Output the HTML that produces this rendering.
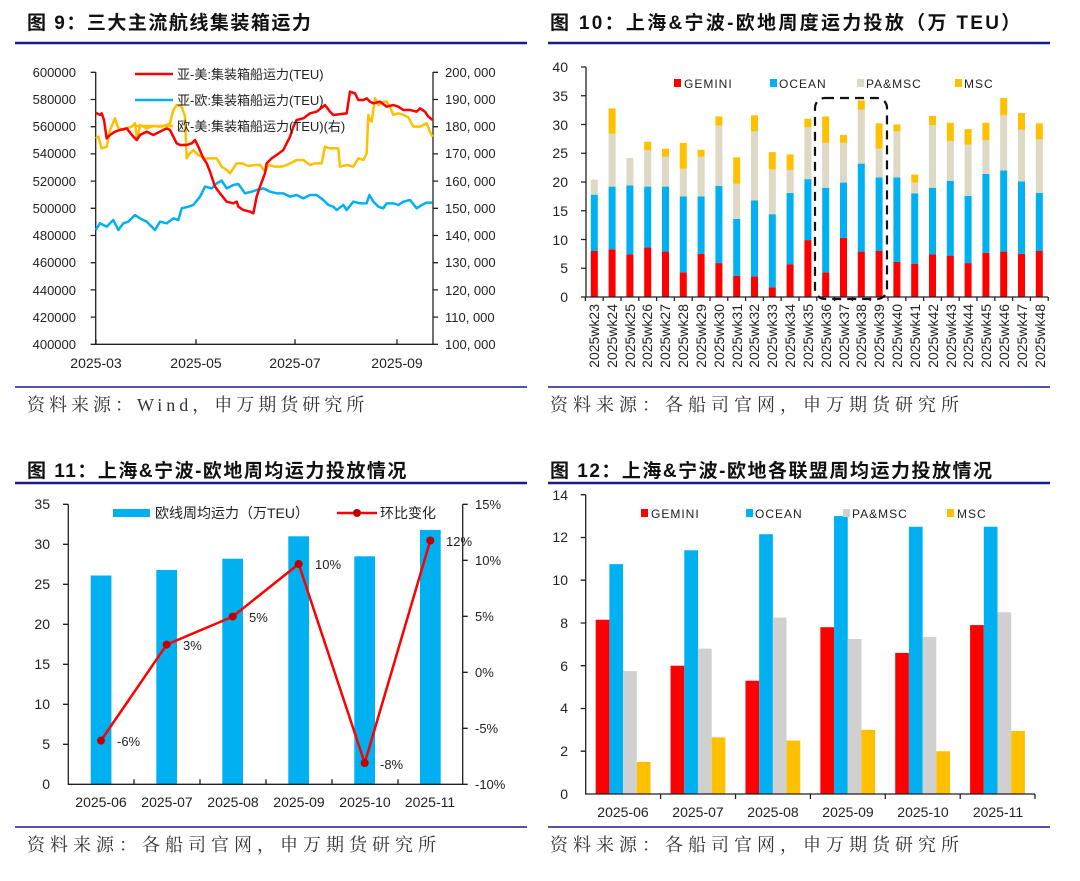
<!DOCTYPE html>
<html><head><meta charset="utf-8"><style>
html,body{margin:0;padding:0;background:#fff}
svg{display:block}
.t{font-family:"Liberation Sans","Noto Sans CJK SC",sans-serif;font-weight:bold;font-size:19px;fill:#111;letter-spacing:1.5px}
.s{font-family:"Liberation Serif","Noto Serif CJK SC",serif;font-size:18px;fill:#333;letter-spacing:5px}
.a{font-family:"Liberation Sans","Noto Sans CJK SC",sans-serif;font-size:13px;fill:#222}
.w{font-family:"Liberation Sans","Noto Sans CJK SC",sans-serif;font-size:14px;fill:#222}
.l{font-family:"Liberation Sans","Noto Sans CJK SC",sans-serif;font-size:13px;fill:#222}
</style></head><body>
<svg id="s" width="1080" height="881" viewBox="0 0 1080 881" xmlns="http://www.w3.org/2000/svg">
<text class="t" x="27" y="29">图 9：三大主流航线集装箱运力</text>
<text class="t" x="550" y="29" style="letter-spacing:2.3px">图 10：上海&amp;宁波-欧地周度运力投放（万 TEU）</text>
<text class="t" x="27" y="477">图 11：上海&amp;宁波-欧地周均运力投放情况</text>
<text class="t" x="550" y="477">图 12：上海&amp;宁波-欧地各联盟周均运力投放情况</text>
<g stroke="#1a1a8c" stroke-width="2.5">
<line x1="15" y1="43" x2="527" y2="43"/><line x1="548" y1="43" x2="1050" y2="43"/>
<line x1="15" y1="483" x2="527" y2="483"/><line x1="548" y1="483" x2="1050" y2="483"/>
</g>
<g stroke="#1a1a8c" stroke-width="1.5">
<line x1="15" y1="387" x2="527" y2="387"/><line x1="548" y1="387" x2="1050" y2="387"/>
<line x1="15" y1="827" x2="527" y2="827"/><line x1="548" y1="827" x2="1050" y2="827"/>
</g>
<text class="s" x="27" y="411" style="letter-spacing:4px">资料来源：Wind，申万期货研究所</text>
<text class="s" x="550" y="411">资料来源：各船司官网，申万期货研究所</text>
<text class="s" x="27" y="851">资料来源：各船司官网，申万期货研究所</text>
<text class="s" x="550" y="851">资料来源：各船司官网，申万期货研究所</text>

<!-- Chart 9 -->
<g class="a" text-anchor="end">
<text x="76" y="77">600000</text><text x="76" y="104">580000</text><text x="76" y="131">560000</text><text x="76" y="158">540000</text><text x="76" y="186">520000</text><text x="76" y="213">500000</text><text x="76" y="240">480000</text><text x="76" y="267">460000</text><text x="76" y="295">440000</text><text x="76" y="322">420000</text><text x="76" y="349">400000</text>
</g>
<g class="a">
<text x="445" y="77">200, 000</text><text x="445" y="104">190, 000</text><text x="445" y="131">180, 000</text><text x="445" y="158">170, 000</text><text x="445" y="186">160, 000</text><text x="445" y="213">150, 000</text><text x="445" y="240">140, 000</text><text x="445" y="267">130, 000</text><text x="445" y="295">120, 000</text><text x="445" y="322">110, 000</text><text x="445" y="349">100, 000</text>
</g>
<g class="w" text-anchor="middle">
<text x="96" y="368">2025-03</text><text x="196" y="368">2025-05</text><text x="295" y="368">2025-07</text><text x="397" y="368">2025-09</text>
</g>
<g stroke="#222" stroke-width="1.3" fill="none">
<path d="M95.7 72V344.3H433V72"/>
<path id="t9"/>
</g>
<g transform="translate(0,40) scale(0.33333)" fill="none" stroke-width="7.5" stroke-linejoin="round">
<polyline stroke="#00b0f0" points="287,570 300,550 320,560 340,540 355,570 370,550 385,545 405,525 420,535 440,545 465,570 480,545 500,550 520,535 535,540 545,505 565,500 580,495 600,470 615,440 635,445 650,430 665,422 680,445 700,435 715,432 735,460 755,455 770,450 790,445 810,455 830,460 850,460 870,470 890,465 910,475 930,465 950,465 970,480 985,495 1000,500 1010,510 1030,495 1040,510 1060,485 1080,490 1100,490 1108,465 1120,485 1135,500 1150,505 1160,490 1180,490 1195,495 1210,485 1230,480 1250,505 1265,495 1280,488 1298,488"/>
<polyline stroke="#ffc000" points="287,295 295,290 305,325 320,320 330,270 345,235 355,265 370,270 380,265 395,260 405,250 412,300 420,255 440,265 460,258 480,260 500,255 510,250 520,210 530,195 545,200 555,230 560,355 570,340 580,330 595,345 615,355 630,355 650,355 665,380 680,390 690,400 700,385 710,370 725,370 745,378 765,375 780,375 795,395 805,375 825,380 845,380 860,375 875,368 890,360 910,360 930,375 945,370 965,370 975,320 990,325 1015,325 1020,380 1040,375 1060,380 1075,355 1090,360 1100,340 1105,225 1110,240 1115,245 1125,175 1135,195 1150,185 1160,185 1170,200 1180,225 1195,220 1210,225 1225,232 1240,260 1260,260 1280,250 1290,275 1298,290"/>
<polyline stroke="#ff0000" points="287,218 300,225 305,220 312,240 320,295 330,285 345,275 360,270 380,265 400,290 410,300 420,285 440,275 460,285 480,275 500,265 510,270 520,290 530,310 540,315 560,315 575,310 585,300 595,320 610,355 620,370 630,395 645,440 660,460 680,485 700,490 710,485 715,500 730,510 750,515 760,520 770,470 780,440 795,400 800,370 815,355 830,345 850,330 860,310 870,290 880,260 890,240 910,235 930,220 950,215 975,195 990,215 1000,225 1040,220 1050,155 1065,160 1075,180 1090,180 1100,175 1110,185 1120,190 1140,185 1160,200 1180,195 1195,200 1210,210 1230,210 1250,215 1260,205 1275,215 1285,230 1298,240"/>
</g>
<g stroke-width="2.5">
<line x1="135" y1="74" x2="173" y2="74" stroke="#ff0000"/>
<line x1="135" y1="100" x2="173" y2="100" stroke="#00b0f0"/>
<line x1="135" y1="126" x2="173" y2="126" stroke="#ffc000"/>
</g>
<g class="a"><text x="177" y="79">亚-美:集装箱船运力(TEU)</text><text x="177" y="105">亚-欧:集装箱船运力(TEU)</text><text x="177" y="131">欧-美:集装箱船运力(TEU)(右)</text></g>

<!-- Chart 10 -->
<g class="w" text-anchor="end">
<text x="568" y="302">0</text><text x="568" y="273">5</text><text x="568" y="245">10</text><text x="568" y="216">15</text><text x="568" y="187">20</text><text x="568" y="158">25</text><text x="568" y="130">30</text><text x="568" y="101">35</text><text x="568" y="72">40</text>
</g>
<g id="b10"></g>
<g stroke="#222" stroke-width="1.3" fill="none"><path d="M586 67V297H1048"/><path id="t10"/></g>
<rect x="815" y="98" width="72" height="201" rx="10" fill="none" stroke="#111" stroke-width="2.2" stroke-dasharray="9,6"/>
<g class="w">
<text transform="translate(599,304) rotate(-90)" text-anchor="end">2025wk23</text>
<text transform="translate(617,304) rotate(-90)" text-anchor="end">2025wk24</text>
<text transform="translate(635,304) rotate(-90)" text-anchor="end">2025wk25</text>
<text transform="translate(652,304) rotate(-90)" text-anchor="end">2025wk26</text>
<text transform="translate(670,304) rotate(-90)" text-anchor="end">2025wk27</text>
<text transform="translate(688,304) rotate(-90)" text-anchor="end">2025wk28</text>
<text transform="translate(706,304) rotate(-90)" text-anchor="end">2025wk29</text>
<text transform="translate(724,304) rotate(-90)" text-anchor="end">2025wk30</text>
<text transform="translate(742,304) rotate(-90)" text-anchor="end">2025wk31</text>
<text transform="translate(759,304) rotate(-90)" text-anchor="end">2025wk32</text>
<text transform="translate(777,304) rotate(-90)" text-anchor="end">2025wk33</text>
<text transform="translate(795,304) rotate(-90)" text-anchor="end">2025wk34</text>
<text transform="translate(813,304) rotate(-90)" text-anchor="end">2025wk35</text>
<text transform="translate(831,304) rotate(-90)" text-anchor="end">2025wk36</text>
<text transform="translate(849,304) rotate(-90)" text-anchor="end">2025wk37</text>
<text transform="translate(866,304) rotate(-90)" text-anchor="end">2025wk38</text>
<text transform="translate(884,304) rotate(-90)" text-anchor="end">2025wk39</text>
<text transform="translate(902,304) rotate(-90)" text-anchor="end">2025wk40</text>
<text transform="translate(920,304) rotate(-90)" text-anchor="end">2025wk41</text>
<text transform="translate(938,304) rotate(-90)" text-anchor="end">2025wk42</text>
<text transform="translate(956,304) rotate(-90)" text-anchor="end">2025wk43</text>
<text transform="translate(973,304) rotate(-90)" text-anchor="end">2025wk44</text>
<text transform="translate(991,304) rotate(-90)" text-anchor="end">2025wk45</text>
<text transform="translate(1009,304) rotate(-90)" text-anchor="end">2025wk46</text>
<text transform="translate(1027,304) rotate(-90)" text-anchor="end">2025wk47</text>
<text transform="translate(1045,304) rotate(-90)" text-anchor="end">2025wk48</text>
</g>
<rect x="674" y="79" width="7" height="8" fill="#ff0000"/><rect x="770" y="79" width="7" height="8" fill="#00b0f0"/><rect x="857" y="79" width="7" height="8" fill="#ddd9c4"/><rect x="955" y="79" width="7" height="8" fill="#ffc000"/>
<g class="l" style="font-size:12px;letter-spacing:1px"><text x="684" y="88">GEMINI</text><text x="779" y="88">OCEAN</text><text x="866" y="88">PA&amp;MSC</text><text x="964" y="88">MSC</text></g>

<!-- Chart 11 -->
<g fill="#00b0f0">
<rect x="90.7" y="575.5" width="20.7" height="208.8"/><rect x="156.3" y="569.9" width="20.7" height="214.4"/><rect x="222.3" y="558.7" width="20.7" height="225.6"/><rect x="288.3" y="536.3" width="20.7" height="248"/><rect x="354.3" y="556.3" width="20.7" height="228"/><rect x="420" y="529.9" width="20.7" height="254.4"/>
</g>
<g stroke="#222" stroke-width="1.3" fill="none"><path d="M68.3 504.3V784.3H462.7V504.3"/>
<path d="M63 504.3h5M63 544.3h5M63 584.3h5M63 624.3h5M63 664.3h5M63 704.3h5M63 744.3h5M462.7 504.3h5M462.7 560.3h5M462.7 616.3h5M462.7 672.3h5M462.7 728.3h5M462.7 784.3h5M134 784.3v-5M200 784.3v-5M266 784.3v-5M332 784.3v-5M398 784.3v-5"/></g>
<polyline fill="none" stroke="#ff0000" stroke-width="2.5" points="101,740.6 166.7,644.6 232.7,616.6 298.7,564 364.7,763 430.3,540.5"/>
<g fill="#c00000"><circle cx="101" cy="740.6" r="4"/><circle cx="166.7" cy="644.6" r="4"/><circle cx="232.7" cy="616.6" r="4"/><circle cx="298.7" cy="564" r="4"/><circle cx="364.7" cy="763" r="4"/><circle cx="430.3" cy="540.5" r="4"/></g>
<g class="a"><text x="117" y="746">-6%</text><text x="183" y="650">3%</text><text x="249" y="622">5%</text><text x="315" y="569">10%</text><text x="380" y="769">-8%</text><text x="446" y="546">12%</text></g>
<g class="w" text-anchor="end">
<text x="50" y="789">0</text><text x="50" y="749">5</text><text x="50" y="709">10</text><text x="50" y="669">15</text><text x="50" y="629">20</text><text x="50" y="589">25</text><text x="50" y="549">30</text><text x="50" y="509">35</text>
</g>
<g class="a"><text x="475" y="509">15%</text><text x="475" y="565">10%</text><text x="475" y="621">5%</text><text x="475" y="677">0%</text><text x="475" y="733">-5%</text><text x="475" y="789">-10%</text></g>
<g class="w" text-anchor="middle"><text x="101" y="807">2025-06</text><text x="167" y="807">2025-07</text><text x="233" y="807">2025-08</text><text x="299" y="807">2025-09</text><text x="365" y="807">2025-10</text><text x="430" y="807">2025-11</text></g>
<rect x="113" y="509" width="37" height="8" fill="#00b0f0"/>
<text class="w" x="155" y="518">欧线周均运力（万TEU）</text>
<line x1="337" y1="513" x2="377" y2="513" stroke="#ff0000" stroke-width="2.5"/><circle cx="357" cy="513" r="4" fill="#c00000"/>
<text class="w" x="380" y="518">环比变化</text>

<!-- Chart 12 -->
<g id="b12"></g>
<g stroke="#222" stroke-width="1.3" fill="none"><path d="M585.7 494.7V794H1035"/>
<path d="M580.7 494.7h5M580.7 537.5h5M580.7 580.2h5M580.7 623h5M580.7 665.7h5M580.7 708.5h5M580.7 751.2h5M660.6 794v5M735.5 794v5M810.4 794v5M885.3 794v5M960.2 794v5M1035 794v5"/></g>
<g class="w" text-anchor="end">
<text x="568" y="799">0</text><text x="568" y="756">2</text><text x="568" y="713">4</text><text x="568" y="671">6</text><text x="568" y="628">8</text><text x="568" y="585">10</text><text x="568" y="542">12</text><text x="568" y="500">14</text>
</g>
<g class="w" text-anchor="middle"><text x="623" y="817">2025-06</text><text x="698" y="817">2025-07</text><text x="773" y="817">2025-08</text><text x="848" y="817">2025-09</text><text x="923" y="817">2025-10</text><text x="998" y="817">2025-11</text></g>
<rect x="641" y="509" width="7" height="8" fill="#ff0000"/><rect x="746" y="509" width="7" height="8" fill="#00b0f0"/><rect x="843" y="509" width="7" height="8" fill="#d0d0d0"/><rect x="947" y="509" width="7" height="8" fill="#ffc000"/>
<g class="l" style="font-size:12px;letter-spacing:1px"><text x="651" y="518">GEMINI</text><text x="755" y="518">OCEAN</text><text x="852" y="518">PA&amp;MSC</text><text x="957" y="518">MSC</text></g>
</svg>
<script>
var NS="http://www.w3.org/2000/svg";
function R(g,x,y,w,h,c){var r=document.createElementNS(NS,"rect");r.setAttribute("x",x);r.setAttribute("y",y);r.setAttribute("width",w);r.setAttribute("height",h);r.setAttribute("fill",c);g.appendChild(r);}
var d=[[8,17.8,20.4,20.4],[8.3,19.2,28.4,32.8],[7.4,19.4,24.2,24.2],[8.6,19.2,25.5,27],[7.9,19.2,24.4,25.8],[4.3,17.5,22.3,26.8],[7.5,17.5,24.4,25.6],[5.9,19.3,29.8,31.4],[3.7,13.6,19.7,24.3],[3.6,16.8,28.8,31.6],[1.7,14.4,22.2,25.2],[5.7,18.1,22.1,24.8],[9.9,20.5,29.5,31],[4.3,19,26.8,31.4],[10.3,19.9,26.8,28.2],[7.9,23.2,32.6,34.2],[8,20.8,25.8,30.2],[6.1,20.8,28.8,30],[5.8,18,19.9,21.3],[7.4,19,29.9,31.5],[7.2,20.2,27.1,30.3],[5.9,17.6,26.5,29.2],[7.7,21.4,27.3,30.3],[7.9,22,31.6,34.6],[7.5,20.1,29.1,32],[8,18.1,27.4,30.2]];
var cs=["#ff0000","#00b0f0","#ddd9c4","#ffc000"],g=document.getElementById("b10"),k=5.75;
d.forEach(function(v,i){var cx=594.3+i*17.8,prev=0;for(var j=0;j<4;j++){if(v[j]>prev)R(g,cx-3.5,297-v[j]*k,7,(v[j]-prev)*k,cs[j]);prev=Math.max(prev,v[j]);}});
var t="";for(var i=0;i<=8;i++)t+="M581 "+(297-i*28.75)+"h5";for(var i=0;i<=26;i++)t+="M"+(585.4+i*17.8)+" 297v4";document.getElementById("t10").setAttribute("d",t);
var t9="";for(var i=0;i<=10;i++){var y=72.3+i*27.2;t9+="M90.7 "+y+"h5M433 "+y+"h5";}[96,196,295,397].forEach(function(x){t9+="M"+x+" 344.3v-5";});document.getElementById("t9").setAttribute("d",t9);
var e=[[8.15,10.75,5.75,1.5],[6,11.4,6.8,2.65],[5.3,12.15,8.25,2.5],[7.8,13,7.25,3],[6.6,12.5,7.35,2],[7.9,12.5,8.5,2.95]];
var c2=["#ff0000","#00b0f0","#d0d0d0","#ffc000"],g2=document.getElementById("b12"),u=21.38;
e.forEach(function(v,i){var x0=585.7+i*74.88+10;for(var j=0;j<4;j++)R(g2,x0+j*13.7,794-v[j]*u,13.7,v[j]*u,c2[j]);});
</script>
</body></html>
